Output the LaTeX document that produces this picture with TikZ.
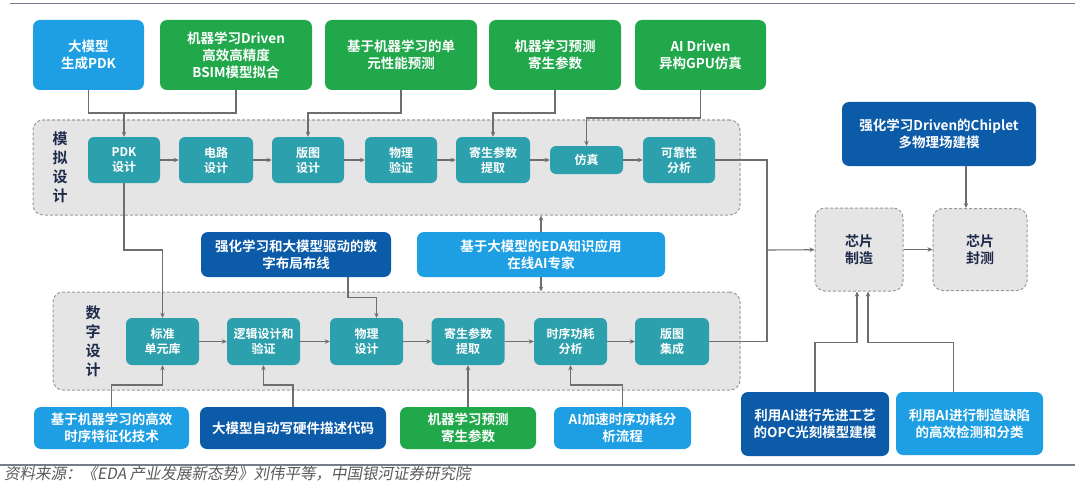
\documentclass[tikz,border=0pt]{standalone}
\usepackage{fontspec}
\setmainfont{Noto Sans CJK SC}[BoldFont={Noto Sans CJK SC Bold}]
\newfontfamily\srcfont{Noto Sans CJK SC}[FakeSlant=0.18]
\usepackage{tikz}
\usetikzlibrary{arrows.meta,positioning,calc}
\definecolor{skyb}{HTML}{1E9FE3}
\definecolor{leaf}{HTML}{21A84B}
\definecolor{deepb}{HTML}{0C5BA8}
\definecolor{flowteal}{HTML}{2DA0AD}
\definecolor{groupbg}{HTML}{E5E5E5}
\definecolor{dashgrey}{HTML}{9A9A9A}
\definecolor{wirecol}{HTML}{6E6E6E}
\definecolor{ink}{HTML}{1E2A4A}
\definecolor{rulecol}{HTML}{767C8A}
\newcommand{\toptxt}{\fontsize{13.5}{17}\selectfont\bfseries}
\newcommand{\steptxt}{\fontsize{12}{15}\selectfont\bfseries}
\newcommand{\sidetxt}{\fontsize{15}{19}\selectfont\bfseries}

\begin{document}
\begin{tikzpicture}[
  x=1pt,y=-1pt,
  every node/.style={inner sep=0pt,align=center},
  wh/.style 2 args={minimum width=#1,minimum height=#2},
  aibox/.style={rounded corners=7pt,text=white,font=\toptxt},
  sky/.style={aibox,fill=skyb},
  grn/.style={aibox,fill=leaf},
  dpb/.style={aibox,fill=deepb},
  stepbox/.style={rounded corners=6pt,fill=flowteal,text=white,font=\steptxt},
  stage/.style={rounded corners=10pt,draw=dashgrey,line width=1pt,dash pattern=on 3pt off 2pt,fill=groupbg},
  stagelabel/.style={text=ink,font=\sidetxt},
  wire/.style={draw=wirecol,line width=1.1pt},
  arr/.style={wire,-{Stealth[length=5pt,width=4.5pt]}}
]
\useasboundingbox (0,0) rectangle (1080,495);

% rules and source
\draw[rulecol,line width=0.8pt] (10,3) -- (1075,3);
\draw[rulecol,line width=1.2pt] (0,465) -- (1075,465);
\node[anchor=west,text=black!65,font=\srcfont\fontsize{15.5}{17}\selectfont] (src) at (4,474) {资料来源：《EDA 产业发展新态势》刘伟平等，中国银河证券研究院};

% stages
\node[stage,wh={707}{95}] (analog) at (386.5,167.5) {};
\node[stage,wh={687}{98}] (digital) at (396.5,341) {};
\node[stagelabel] (anlabel) at (60,167) {模\\拟\\设\\计};
\node[stagelabel] (dglabel) at (93,341) {数\\字\\设\\计};

% top AI boxes
\node[sky,wh={111}{70}] (pdkgen) at (88.5,55) {大模型\\生成PDK};
\node[grn,wh={152}{70}] (bsim) at (236,55) {机器学习Driven\\高效高精度\\BSIM模型拟合};
\node[grn,wh={152}{70}] (cellpred) at (401,55) {基于机器学习的单\\元性能预测};
\node[grn,wh={132}{70}] (parapred) at (555,55) {机器学习预测\\寄生参数};
\node[grn,wh={131}{70}] (gpusim) at (700.5,55) {AI Driven\\异构GPU仿真};
\node[dpb,wh={194}{64}] (chiplet) at (939,134) {强化学习Driven的Chiplet\\多物理场建模};

% analog flow
\node[stepbox,wh={72}{46}] (pdk) at (124,160) {PDK\\设计};
\node[stepbox,wh={74}{46}] (circ) at (216,160) {电路\\设计};
\node[stepbox,wh={72}{46}] (layout) at (308,160) {版图\\设计};
\node[stepbox,wh={72}{46}] (physver) at (401,160) {物理\\验证};
\node[stepbox,wh={74}{46}] (apex) at (493,160) {寄生参数\\提取};
\node[stepbox,wh={73}{28}] (sim) at (586.5,160) {仿真};
\node[stepbox,wh={72}{46}] (reli) at (679,160) {可靠性\\分析};

% middle AI boxes
\node[dpb,wh={190}{45}] (placeroute) at (296,254.5) {强化学习和大模型驱动的数\\字布局布线};
\node[sky,wh={248}{45}] (edaexpert) at (541,254.5) {基于大模型的EDA知识应用\\在线AI专家};

% digital flow
\node[stepbox,wh={73}{47}] (stdcell) at (162.5,341.5) {标准\\单元库};
\node[stepbox,wh={73}{47}] (logic) at (263.5,341.5) {逻辑设计和\\验证};
\node[stepbox,wh={73}{47}] (physdes) at (366.5,341.5) {物理\\设计};
\node[stepbox,wh={73}{47}] (dpex) at (468,341.5) {寄生参数\\提取};
\node[stepbox,wh={73}{47}] (timing) at (570.5,341.5) {时序功耗\\分析};
\node[stepbox,wh={74}{47}] (integ) at (672,341.5) {版图\\集成};

% bottom AI boxes
\node[sky,wh={155}{42}] (charact) at (111.5,428) {基于机器学习的高效\\时序特征化技术};
\node[dpb,wh={186}{42}] (hdlgen) at (293,428) {大模型自动写硬件描述代码};
\node[grn,wh={136}{42}] (parapred2) at (468,428) {机器学习预测\\寄生参数};
\node[sky,wh={137}{42}] (timingacc) at (622.5,428) {AI加速时序功耗分\\析流程};
\node[dpb,wh={148}{64}] (opc) at (815,424) {利用AI进行先进工艺\\的OPC光刻模型建模};
\node[sky,wh={147}{63}] (defect) at (969.5,423.5) {利用AI进行制造缺陷\\的高效检测和分类};

% back end
\node[stage,wh={88}{83},text=ink,font=\fontsize{14}{17}\selectfont\bfseries] (fab) at (859,249.5) {芯片\\制造};
\node[stage,wh={94}{82},text=ink,font=\fontsize{14}{17}\selectfont\bfseries] (test) at (980,249.5) {芯片\\封测};

\coordinate (rowA) at (0,113);
\coordinate (rowB) at (0,118);
\coordinate (rowC) at (0,250);
\coordinate (rowD) at (0,385);
\coordinate (mergeA) at (124,113);
\coordinate (bus) at (767,250);

% top inputs
\draw[wire] (pdkgen) |- (mergeA);
\draw[wire] (bsim) |- (mergeA);
\draw[arr] (mergeA) -- (pdk);
\draw[arr] (cellpred) |- (layout |- rowA) -- (layout);
\draw[arr] (parapred) |- (apex |- rowA) -- (apex);
\draw[arr] (gpusim) |- (sim |- rowB) -- (sim);

\foreach \a/\b in {pdk/circ,circ/layout,layout/physver,physver/apex,apex/sim,sim/reli}
  \draw[arr] (\a) -- (\b);
\foreach \a/\b in {stdcell/logic,logic/physdes,physdes/dpex,dpex/timing,timing/integ}
  \draw[arr] (\a) -- (\b);

% analog to digital, middle inputs
\draw[arr] (pdk) |- (stdcell |- rowC) -- (stdcell);
\draw[arr] ($(placeroute.south)+(52,0)$) |- ($(physdes.north)+(10,-20)$) -- ($(physdes.north)+(10,0)$);
\draw[arr] (edaexpert.north) -- (edaexpert.north |- analog.south);
\draw[arr] (edaexpert.south) -- (edaexpert.south |- digital.north);

% bottom inputs
\draw[arr] (charact) |- (stdcell |- rowD) -- (stdcell);
\draw[arr] (hdlgen) |- (logic |- rowD) -- (logic);
\draw[arr] (parapred2) -- (dpex);
\draw[arr] (timingacc) |- (timing |- rowD) -- (timing);

% to manufacturing
\draw[wire] (reli) -| (bus);
\draw[wire] (integ) -| (bus);
\draw[arr] (bus) -- (fab);
\draw[arr] (opc) |- ($(fab.south)+(-2,51)$) -- ($(fab.south)+(-2,0)$);
\draw[arr] ($(defect.north)+(-16,0)$) |- ($(fab.south)+(9,51)$) -- ($(fab.south)+(9,0)$);
\draw[arr] (fab) -- (test);
\coordinate (cpdrop) at ($(test.north)+(-14,0)$);
\draw[arr] (cpdrop |- chiplet.south) -- (cpdrop);
\end{tikzpicture}
\end{document}
